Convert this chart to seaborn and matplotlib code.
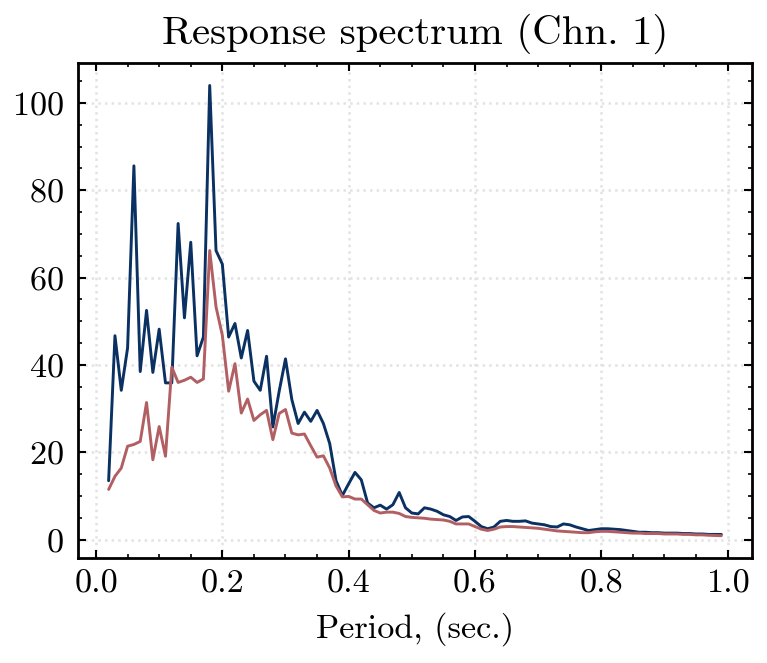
import numpy as np
import pandas as pd
import seaborn as sns
import matplotlib.pyplot as plt

# periods 0.02 .. 0.99 s, step 0.01
period = np.round(np.arange(0.02, 1.0, 0.01), 2)

# blue series
psa_1 = [13.5, 46.7, 34.2, 43.9, 85.6, 38.5, 52.5, 38.3, 48.2, 35.9,
         35.9, 72.4, 50.8, 68.1, 42.1, 46.4, 104.0, 66.2, 63.1, 46.4,
         49.5, 41.6, 47.9, 36.3, 34.2, 42.0, 25.8, 34.0, 41.4, 32.1,
         26.6, 29.2, 27.1, 29.6, 26.6, 22.0, 13.5, 10.1, 12.8, 15.4,
         13.7, 8.4, 7.3, 7.9, 7.0, 8.0, 10.8, 7.3, 6.1, 5.9,
         7.3, 7.0, 6.5, 5.7, 5.3, 4.4, 5.2, 5.3, 4.2, 3.0,
         2.5, 2.9, 4.2, 4.4, 4.2, 4.2, 4.3, 3.8, 3.6, 3.4,
         3.0, 2.9, 3.6, 3.4, 2.9, 2.5, 2.1, 2.3, 2.5, 2.5,
         2.4, 2.3, 2.1, 1.9, 1.7, 1.7, 1.6, 1.6, 1.5, 1.5,
         1.5, 1.4, 1.4, 1.3, 1.3, 1.2, 1.2, 1.2]

# red series
psa_2 = [11.5, 14.5, 16.4, 21.4, 21.8, 22.5, 31.4, 18.3, 25.9, 19.1,
         39.5, 36.0, 36.5, 37.2, 36.0, 36.8, 66.2, 53.3, 46.8, 34.0,
         40.3, 29.0, 32.2, 27.3, 28.6, 29.6, 22.9, 28.9, 29.8, 24.4,
         24.0, 24.2, 21.5, 18.9, 19.2, 16.4, 12.3, 9.8, 9.9, 9.3,
         9.3, 8.0, 6.7, 6.1, 6.3, 6.3, 6.0, 5.3, 5.1, 5.0,
         4.9, 4.7, 4.6, 4.5, 4.2, 3.6, 3.6, 3.6, 3.0, 2.4,
         2.1, 2.4, 2.9, 3.0, 3.0, 2.9, 2.8, 2.7, 2.6, 2.4,
         2.2, 2.0, 1.9, 1.8, 1.7, 1.6, 1.6, 1.8, 1.9, 1.9,
         1.8, 1.7, 1.6, 1.5, 1.5, 1.4, 1.4, 1.4, 1.3, 1.3,
         1.3, 1.2, 1.2, 1.1, 1.1, 1.0, 0.95, 0.9]

sns.set_theme(style="ticks")
plt.rcParams.update({
    "font.family": ["cmr10", "DejaVu Serif"],
    "mathtext.fontset": "cm",
    "axes.formatter.use_mathtext": True,
    "axes.unicode_minus": False,
    "text.color": "black",
    "axes.labelcolor": "black",
    "xtick.color": "black",
    "ytick.color": "black",
    "axes.titlesize": 14.7,
    "axes.labelsize": 12.3,
    "xtick.labelsize": 12.3,
    "ytick.labelsize": 12.3,
    "xtick.direction": "in",
    "ytick.direction": "in",
    "xtick.top": True,
    "ytick.right": True,
    "xtick.major.size": 3.0,
    "ytick.major.size": 3.0,
    "xtick.minor.size": 1.5,
    "ytick.minor.size": 1.5,
    "xtick.major.width": 0.75,
    "ytick.major.width": 0.75,
    "xtick.minor.width": 0.6,
    "ytick.minor.width": 0.6,
    "xtick.major.pad": 4,
    "ytick.major.pad": 5,
    "axes.linewidth": 1.0,
    "axes.edgecolor": "black",
})

df = pd.DataFrame({
    "Period": np.concatenate([period, period]),
    "SA": psa_1 + psa_2,
    "series": ["a"] * len(period) + ["b"] * len(period),
})

fig = plt.figure(figsize=(7.67 / 2, 6.63 / 2), dpi=200)
ax = fig.add_axes([0.1017, 0.158, 0.8787, 0.747])
sns.lineplot(data=df, x="Period", y="SA", hue="series",
             palette={"a": "#0a3161", "b": "#b25f63"},
             linewidth=1.05, legend=False, ax=ax)

ax.set_xticks([0.0, 0.2, 0.4, 0.6, 0.8, 1.0])
ax.set_xticks(np.arange(0.0, 1.05, 0.05), minor=True)
ax.set_yticks([0, 20, 40, 60, 80, 100])
ax.set_yticks(np.arange(0, 110, 5), minor=True)
ax.xaxis.set_major_formatter(plt.FuncFormatter(lambda v, p: f"{v:.1f}"))
ax.tick_params(which="both", top=True, right=True, direction="in")
ax.margins(x=0.05, y=0.05)
ax.grid(True, which="major", linestyle=":", color="#e3e3e3", linewidth=0.9)
ax.set_xlabel("Period, (sec.)", labelpad=5)
ax.set_ylabel("")
ax.set_title("Response spectrum (Chn. 1)", pad=7)

fig.savefig("out.png", dpi=200)
